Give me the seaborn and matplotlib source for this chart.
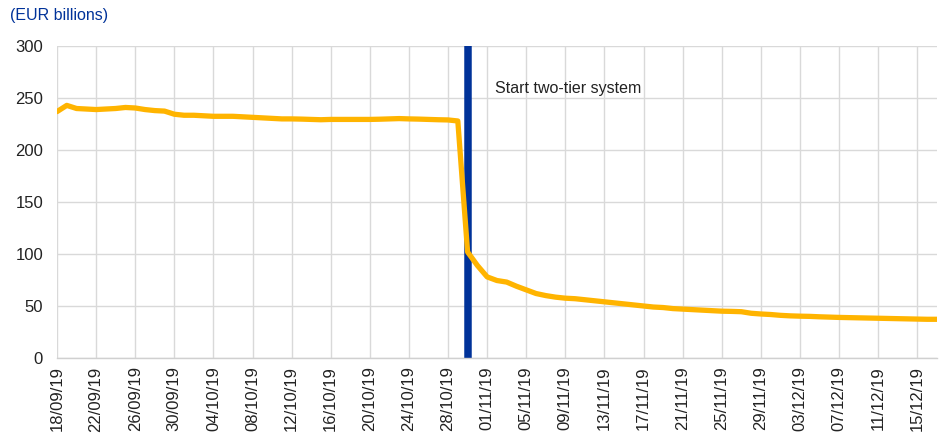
import pandas as pd
import numpy as np
import matplotlib
matplotlib.use("Agg")
import matplotlib.pyplot as plt
import seaborn as sns

# Daily data, 18/09/19 .. 17/12/19 (EUR billions)
start_date = "2019-09-18"
values = [
    237, 243, 240, 239.5, 239, 239.5, 240, 241, 240.5, 239,
    238, 237.5, 234.5, 233.5, 233.5, 233, 232.5, 232.5, 232.5, 232,
    231.5, 231, 230.5, 230, 230, 229.8, 229.5, 229.2, 229.5, 229.5,
    229.5, 229.5, 229.5, 229.7, 230, 230.3, 230, 229.8, 229.5, 229.2,
    229, 228, 102, 89, 78, 74.5, 73, 69, 65.5, 62,
    60, 58.5, 57.5, 57, 56, 55, 54, 53, 52, 51,
    50, 49, 48.5, 47.5, 47, 46.5, 46, 45.5, 45, 44.8,
    44.5, 43, 42.3, 41.8, 41, 40.5, 40.2, 40, 39.6, 39.3,
    39, 38.8, 38.6, 38.4, 38.2, 38, 37.8, 37.6, 37.4, 37.2,
    37.2,
]
dates = pd.date_range(start_date, periods=len(values), freq="D")
event_date = pd.Timestamp("2019-10-30")
event_label = "Start two-tier system"
unit_label = "(EUR billions)"

df = pd.DataFrame({"date": dates, "value": values})

sns.set_style("white")
plt.rcParams["font.family"] = ["Liberation Sans", "DejaVu Sans"]

fig = plt.figure(figsize=(9.39, 4.48), dpi=100)
ax = fig.add_axes([0.0607, 0.201, 0.937, 0.696])

ax.axvline(event_date, color="#003299", linewidth=5.4, zorder=2)
sns.lineplot(data=df, x="date", y="value", ax=ax, color="#FFB400",
             linewidth=3.8, zorder=3)

ax.set_xlim(dates[0], dates[-1])
ax.set_ylim(0, 300)
ax.set_yticks(np.arange(0, 301, 50))
tick_dates = dates[::4]
ax.set_xticks(tick_dates)
ax.set_xticklabels([d.strftime("%d/%m/%y") for d in tick_dates],
                   rotation=90, fontsize=12, color="#222222")
ax.tick_params(axis="y", labelsize=12, colors="#222222", length=0, pad=10)
ax.tick_params(axis="x", length=0, pad=6)
ax.grid(True, color="#d9d9d9", linewidth=1)
ax.set_axisbelow(True)
ax.set_xlabel("")
ax.set_ylabel("")

for s in ["top", "right", "left"]:
    ax.spines[s].set_visible(False)
ax.spines["bottom"].set_color("#d0d0d0")
ax.spines["bottom"].set_linewidth(1)

ax.text(event_date + pd.Timedelta(hours=68), 259, event_label,
        fontsize=11.5, color="#222222", va="center", ha="left")
fig.text(0.011, 0.966, unit_label, fontsize=11.5, color="#003299",
         va="center", ha="left")

fig.savefig("out.png", dpi=100)
